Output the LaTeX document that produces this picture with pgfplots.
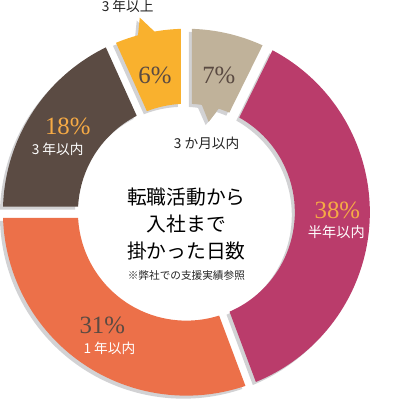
\documentclass[border=0pt]{standalone}
\usepackage{pgfplots}
\pgfplotsset{compat=1.18}
\usepackage{fontspec}
\setmainfont{Noto Sans CJK JP}
\newfontfamily\pctfont{Liberation Serif}
\definecolor{cBrown}{HTML}{5B4B43}
\definecolor{cYellow}{HTML}{F9B12E}
\definecolor{cBeige}{HTML}{C0B29A}
\definecolor{cMagenta}{HTML}{BA3C6B}
\definecolor{cOrange}{HTML}{EC7049}
\definecolor{cShadow}{HTML}{D2D2D4}
\definecolor{cPctO}{HTML}{F6AA45}
\definecolor{cPctD}{HTML}{5A4A42}
\definecolor{cTxt}{HTML}{222222}
\def\Ro{181}\def\Ri{107}\def\hg{5.5}
% shares (percent), clockwise from 9 o'clock
\def\segs{18.25/cBrown,6.75/cYellow,7.3/cBeige,37.0/cMagenta,30.7/cOrange}
\newcommand\drawsegs[1]{%
  \gdef\cum{270}%
  \foreach \p/\col in \segs {%
    \pgfmathsetmacro\e{\cum+3.6*\p}%
    \pgfmathsetmacro\dR{asin(\hg/\Ro)}%
    \pgfmathsetmacro\dr{asin(\hg/\Ri)}%
    \pgfmathsetmacro\oa{90-\cum-\dR}%
    \pgfmathsetmacro\ob{90-\e+\dR}%
    \pgfmathsetmacro\ia{90-\e+\dr}%
    \pgfmathsetmacro\ib{90-\cum-\dr}%
    \ifx#1\relax\def\fc{\col}\else\def\fc{#1}\fi
    \fill[\fc] (\oa:\Ro) arc[start angle=\oa, end angle=\ob, radius=\Ro]
      -- (\ia:\Ri) arc[start angle=\ia, end angle=\ib, radius=\Ri] -- cycle;
    \xdef\cum{\e}%
  }%
}
\begin{document}
\begin{tikzpicture}
\begin{axis}[scale only axis, width=380pt, height=410pt,
  xmin=0, xmax=380, ymin=0, ymax=410, hide axis, clip=false]
\pgfplotsextra{%
  \begin{scope}[shift={(axis cs:189,190)}]
    \begin{scope}[shift={(-3pt,-3pt)}]
      \drawsegs{cShadow}
    \end{scope}
  \end{scope}
  \fill[cShadow] (axis cs:138,359) -- (axis cs:140,379) -- (axis cs:159,361) -- cycle;
  \fill[cShadow] (axis cs:200,294) -- (axis cs:208,276) -- (axis cs:223,294) -- cycle;
  \begin{scope}[shift={(axis cs:189,190)}]
    \drawsegs\relax
  \end{scope}
  \fill[cYellow] (axis cs:141,362) -- (axis cs:143,382) -- (axis cs:162,364) -- cycle;
  \fill[cBeige] (axis cs:203,299) -- (axis cs:211,279) -- (axis cs:226,299) -- cycle;
}
% labels (anchored on their baselines)
\tikzset{lb/.style={anchor=base, inner sep=0pt}}
\node[lb, text=cTxt, font=\fontsize{13.5}{15}\selectfont] at (axis cs:131,388) {3 年以上};
\node[lb, text=cTxt, font=\fontsize{13.5}{15}\selectfont] at (axis cs:209,253) {3 か月以内};
\node[lb, text=black, font=\fontsize{19.5}{22}\selectfont] at (axis cs:189,198) {転職活動から};
\node[lb, text=black, font=\fontsize{19.5}{22}\selectfont] at (axis cs:189,171) {入社まで};
\node[lb, text=black, font=\fontsize{19.5}{22}\selectfont] at (axis cs:189,144) {掛かった日数};
\node[lb, text=cTxt, font=\fontsize{10.5}{12}\selectfont] at (axis cs:189,124) {※弊社での支援実績参照};
\node[lb, text=cPctO, font=\pctfont\fontsize{24.5}{26}\selectfont] at (axis cs:72,267) {18\%};
\node[lb, text=white, font=\fontsize{13.5}{15}\selectfont] at (axis cs:62,247) {3 年以内};
\node[lb, text=cPctO, font=\pctfont\fontsize{24.5}{26}\selectfont] at (axis cs:338,184) {38\%};
\node[lb, text=white, font=\fontsize{14}{15}\selectfont] at (axis cs:337,165.5) {半年以内};
\node[lb, text=cPctD, font=\pctfont\fontsize{24.5}{26}\selectfont] at (axis cs:106,70) {31\%};
\node[lb, text=white, font=\fontsize{13.5}{15}\selectfont] at (axis cs:113,51) {1 年以内};
\node[lb, text=cPctD, font=\pctfont\fontsize{24.5}{26}\selectfont] at (axis cs:158,317) {6\%};
\node[lb, text=cPctD, font=\pctfont\fontsize{24.5}{26}\selectfont] at (axis cs:221,317) {7\%};
\end{axis}
\end{tikzpicture}
\end{document}
